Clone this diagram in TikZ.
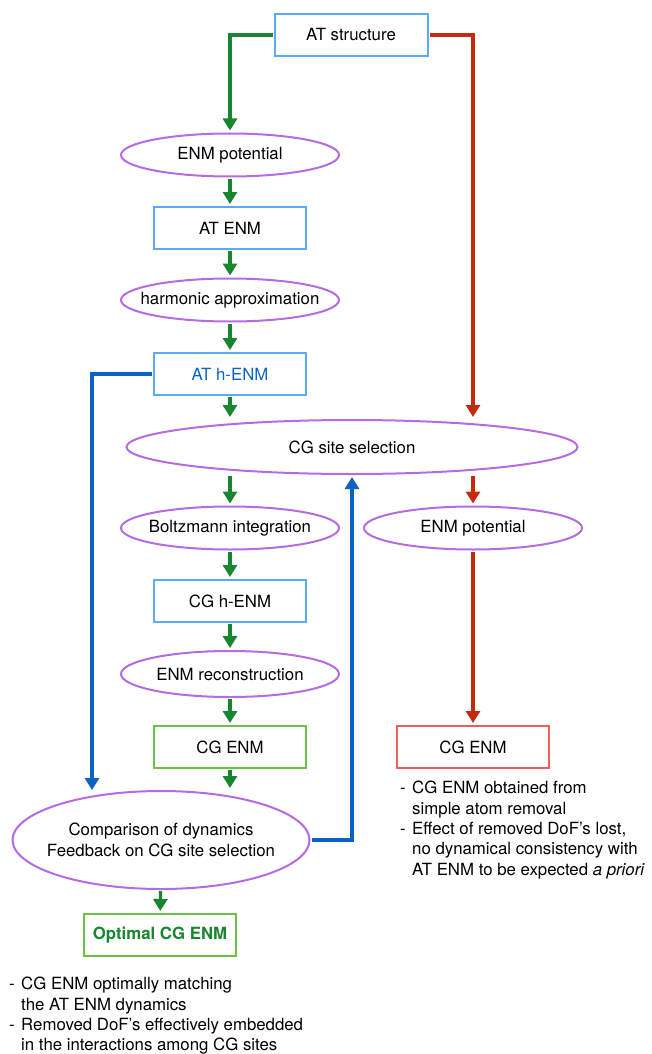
\documentclass[tikz,border=0pt]{standalone}
\usepackage{fontspec}
\setmainfont{TeX Gyre Heros}
\usetikzlibrary{shapes.geometric,arrows.meta}
\definecolor{boxblue}{HTML}{5AAAF5}
\definecolor{ellpurple}{HTML}{B56BE3}
\definecolor{boxgreen}{HTML}{6CC04A}
\definecolor{boxred}{HTML}{E8605E}
\definecolor{arrgreen}{HTML}{17862F}
\definecolor{arrred}{HTML}{C52A10}
\definecolor{arrblue}{HTML}{0B62C4}
\newcommand{\dashitem}{\makebox[12pt][l]{-}}
\newcommand{\hangin}{\hspace*{12pt}}
\tikzset{
 blubox/.style={draw=boxblue,line width=2pt,minimum width=152pt,minimum height=42pt,inner sep=0pt},
 grnbox/.style={blubox,draw=boxgreen},
 redbox/.style={blubox,draw=boxred},
 purell/.style={ellipse,draw=ellpurple,line width=2pt,minimum width=218pt,minimum height=43pt,inner xsep=-30pt,inner ysep=0pt},
 garrow/.style={draw=arrgreen,line width=3.2pt,-{Triangle[width=14pt,length=12pt]},shorten >=2pt,shorten <=1pt},
 rarrow/.style={garrow,draw=arrred},
 barrow/.style={garrow,draw=arrblue}
}
\begin{document}
\begin{tikzpicture}[x=1pt,y=-1pt,every node/.append style={font=\fontsize{16.8}{20.4}\selectfont}]
 \useasboundingbox (0,0) rectangle (652,1054);
 \node[blubox,minimum width=153pt] (atstr) at (351,35) {AT structure};
 \node[purell] (enmpot) at (230,155) {ENM potential};
 \node[blubox] (atenm) at (230,228) {AT ENM};
 \node[purell] (harm) at (230,300) {harmonic approximation};
 \node[blubox,text=arrblue] (athenm) at (230,374) {AT h-ENM};
 \node[purell,minimum width=451pt,minimum height=54pt] (cgsel) at (352,447) {CG site selection};
 \node[purell] (boltz) at (230,528) {Boltzmann integration};
 \node[purell] (cgpot) at (473,528) {ENM potential};
 \node[blubox] (cghenm) at (230,601) {CG h-ENM};
 \node[purell,minimum height=46pt] (recon) at (230,674) {ENM reconstruction};
 \node[grnbox] (cgenm) at (230,747) {CG ENM};
 \node[redbox] (cgenmr) at (473,747) {CG ENM};
 \node[purell,minimum width=297pt,minimum height=98pt,align=center] (cmp) at (161,840) {Comparison of dynamics\\Feedback on CG site selection};
 \node[grnbox,text=arrgreen] (opt) at (160,935) {\bfseries Optimal CG ENM};
 \coordinate (cmpin) at (92,792);
 \node[anchor=north west,align=left,inner sep=0pt] (rnote) at (400,781) {\dashitem CG ENM obtained from\\\hangin simple atom removal\\\dashitem Effect of removed DoF’s lost,\\\hangin no dynamical consistency with\\\hangin AT ENM to be expected \textit{a priori}};
 \node[anchor=north west,align=left,inner sep=0pt] (lnote) at (9,977) {\dashitem CG ENM optimally matching\\\hangin the AT ENM dynamics\\\dashitem Removed DoF’s effectively embedded\\\hangin in the interactions among CG sites};
 \draw[garrow] (atstr.west) -| (enmpot.north);
 \draw[rarrow] (atstr.east) -| (cgsel.north -| cgpot);
 \draw[garrow] (enmpot) -- (atenm);
 \draw[garrow] (atenm) -- (harm);
 \draw[garrow] (harm) -- (athenm);
 \draw[garrow] (athenm) -- (cgsel.north -| athenm);
 \draw[barrow] (athenm.west) -| (cmpin);
 \draw[garrow] (cgsel.south -| boltz) -- (boltz);
 \draw[rarrow] (cgsel.south -| cgpot) -- (cgpot);
 \draw[garrow] (boltz) -- (cghenm);
 \draw[garrow] (cghenm) -- (recon);
 \draw[garrow] (recon) -- (cgenm);
 \draw[garrow] (cgenm) -- (cgenm |- cmp.north);
 \draw[rarrow] (cgpot) -- (cgenmr);
 \draw[barrow] (cmp.east) -| (cgsel.south);
 \draw[garrow] (cmp) -- (opt);
\end{tikzpicture}
\end{document}
